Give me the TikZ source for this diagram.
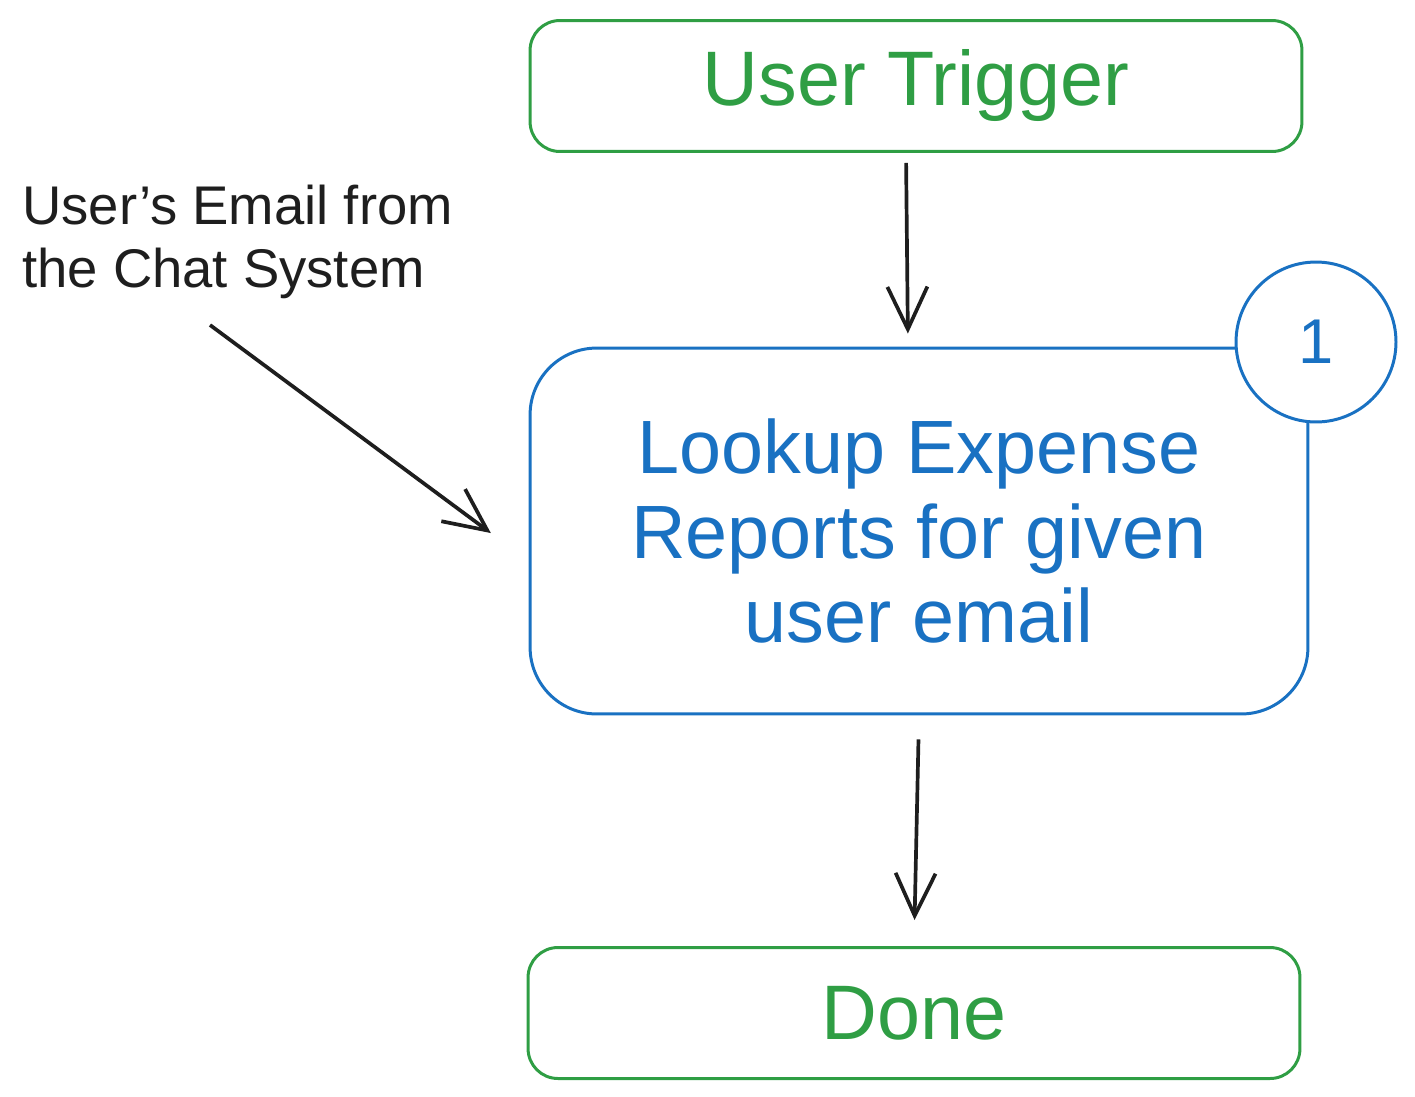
\documentclass[tikz,border=0pt]{standalone}
\usepackage{fontspec}
\setmainfont{Liberation Sans}
\usetikzlibrary{arrows.meta}
\definecolor{exgreen}{HTML}{2F9E44}
\definecolor{exblue}{HTML}{1971C2}
\definecolor{exink}{HTML}{1E1E1E}
\tikzset{
  greenbox/.style={draw=exgreen,text=exgreen,line width=1.7pt,rounded corners=17pt,
    minimum width=15.44cm,minimum height=2.62cm,font=\fontsize{44}{50}\selectfont},
  bluebox/.style={draw=exblue,text=exblue,line width=1.7pt,rounded corners=38pt,
    minimum width=15.56cm,minimum height=7.32cm,align=center,font=\fontsize{43}{48}\selectfont},
  badge/.style={circle,draw=exblue,text=exblue,fill=white,line width=1.7pt,
    minimum size=3.2cm,inner sep=0pt,font=\fontsize{36}{40}\selectfont},
  arr/.style={draw=exink,line width=2.1pt,-{Straight Barb[length=0.85cm,width=0.8cm,line width=2.1pt]}}
}
\begin{document}
\begin{tikzpicture}[x=0.02cm,y=-0.02cm]
  \useasboundingbox (0,0) rectangle (1415,1096);
  \node[greenbox](trigger)at(916,86){User Trigger};
  \node[bluebox](lookup)at(919,531){Lookup Expense\\Reports for given\\user email};
  \node[badge](one)at(1316,342){1};
  \node[greenbox](done)at(914,1013){Done};
  \node[anchor=west,align=left,text=exink,font=\fontsize{31}{36}\selectfont](note)at(16,242){User's Email from\\the Chat System};
  \coordinate(notetail)at(210,325);
  % connectors
  \draw[arr,shorten <=0.2cm,shorten >=0.26cm]([xshift=-0.2cm]trigger.south)--([xshift=-0.22cm]lookup.north);
  \draw[arr,shorten <=0.48cm,shorten >=0.52cm](lookup.south)--(done.north);
  \draw[arr,shorten >=0.94cm](notetail)--([yshift=-0.6cm]lookup.west);
\end{tikzpicture}
\end{document}
